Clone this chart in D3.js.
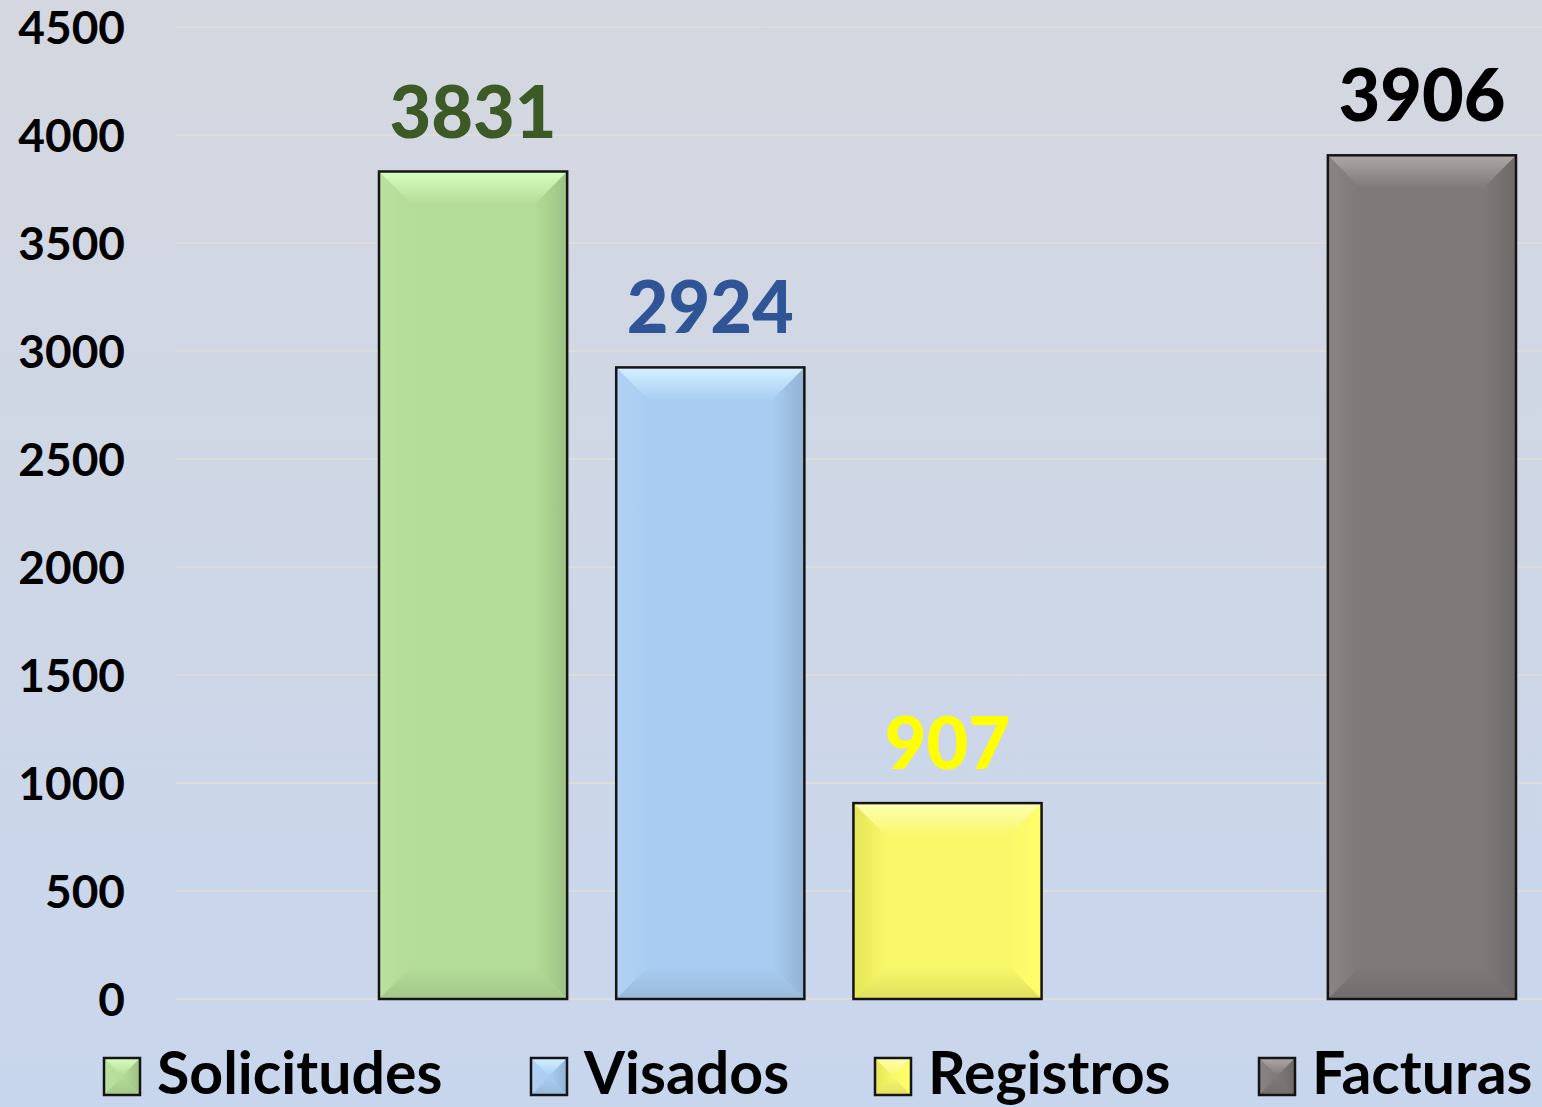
<!DOCTYPE html>
<html>
<head>
<meta charset="utf-8">
<script src="https://cdn.jsdelivr.net/npm/d3@7"></script>
<style>
html,body{margin:0;padding:0;}
body{width:1542px;height:1107px;overflow:hidden;}
svg{display:block;}
</style>
</head>
<body>
<svg id="chart" width="1542" height="1107"></svg>
<script>
// ---- data ----
const seriesNames = ["Solicitudes", "Visados", "Registros", "Facturas"];
const seriesValues = [3831, 2924, 907, 3906];
const slotOrder = ["Solicitudes", "Visados", "Registros", "", "Facturas"];
const yTicks = [0, 500, 1000, 1500, 2000, 2500, 3000, 3500, 4000, 4500];
const baseColors = ["#b4dd97", "#a9cdf2", "#f8f86a", "#7f7a7a"];
const topColors = ["#d8fdbf", "#d2f1ff", "#fefeb4", "#ada8a6"];
const labelColors = ["#3b5a25", "#2f5597", "#ffff00", "#000000"];

const W = 1542, H = 1107;
const svg = d3.select("#chart");
const defs = svg.append("defs");

// background
const bg = defs.append("linearGradient").attr("id", "bg").attr("x1", 0).attr("y1", 0).attr("x2", 0).attr("y2", 1);
bg.append("stop").attr("offset", "0%").attr("stop-color", "#d4d7df");
bg.append("stop").attr("offset", "100%").attr("stop-color", "#c8d6ed");
svg.append("rect").attr("width", W).attr("height", H).attr("fill", "url(#bg)");

const y = d3.scaleLinear().domain([0, 4500]).range([999, 27]);
const x = d3.scaleBand().domain(slotOrder).range([379, 1516]).paddingInner(0.2068).paddingOuter(0);

// gridlines
svg.append("g").selectAll("line").data(yTicks).join("line")
  .attr("x1", 176).attr("x2", W)
  .attr("y1", d => y(d)).attr("y2", d => y(d))
  .attr("stroke", "#dcdcdc").attr("stroke-width", 2);

// y axis labels via d3.axisLeft
const yAxis = d3.axisLeft(y).tickValues(yTicks).tickSize(0).tickPadding(0).tickFormat(d3.format("d"));
const ag = svg.append("g").attr("transform", "translate(125,0)").call(yAxis);
ag.select(".domain").remove();
ag.selectAll("text")
  .attr("font-family", "Lato, 'Open Sans', sans-serif")
  .attr("font-weight", "bold")
  .attr("font-size", 46)
  .attr("fill", "#000")
  .attr("dy", "0.36em");

// gradients per series
function mix(a, b, t) { return d3.interpolateRgb(a, b)(t); }
seriesNames.forEach((s, i) => {
  const base = baseColors[i];
  const g1 = defs.append("linearGradient").attr("id", "top" + i).attr("x1", 0).attr("y1", 0).attr("x2", 0).attr("y2", 1);
  g1.append("stop").attr("offset", "0%").attr("stop-color", topColors[i]);
  g1.append("stop").attr("offset", "100%").attr("stop-color", base);
  const g2 = defs.append("linearGradient").attr("id", "left" + i).attr("x1", 0).attr("y1", 0).attr("x2", 1).attr("y2", 0);
  g2.append("stop").attr("offset", "0%").attr("stop-color", i === 2 ? mix(base, "#8a8a00", 0.18) : mix(base, "#ffffff", 0.08));
  g2.append("stop").attr("offset", "100%").attr("stop-color", base);
  const g3 = defs.append("linearGradient").attr("id", "right" + i).attr("x1", 1).attr("y1", 0).attr("x2", 0).attr("y2", 0);
  g3.append("stop").attr("offset", "0%").attr("stop-color", i === 2 ? "#ffff6a" : mix(base, "#000000", 0.13));
  g3.append("stop").attr("offset", "100%").attr("stop-color", base);
  const g4 = defs.append("linearGradient").attr("id", "bot" + i).attr("x1", 0).attr("y1", 1).attr("x2", 0).attr("y2", 0);
  g4.append("stop").attr("offset", "0%").attr("stop-color", mix(base, "#000000", 0.1));
  g4.append("stop").attr("offset", "100%").attr("stop-color", base);
});

function bevel(g, x0, y0, w, h, i, b) {
  b = Math.min(b, w / 2, h / 2);
  const x1 = x0 + w, y1 = y0 + h;
  g.append("rect").attr("x", x0).attr("y", y0).attr("width", w).attr("height", h).attr("fill", baseColors[i]);
  const poly = (pts, fill) => g.append("polygon").attr("points", pts.map(p => p.join(",")).join(" ")).attr("fill", fill);
  poly([[x0, y0], [x0 + b, y0 + b], [x0 + b, y1 - b], [x0, y1]], `url(#left${i})`);
  poly([[x1, y0], [x1 - b, y0 + b], [x1 - b, y1 - b], [x1, y1]], `url(#right${i})`);
  poly([[x0, y1], [x0 + b, y1 - b], [x1 - b, y1 - b], [x1, y1]], `url(#bot${i})`);
  poly([[x0, y0], [x1, y0], [x1 - b, y0 + b], [x0 + b, y0 + b]], `url(#top${i})`);
  g.append("rect").attr("x", x0).attr("y", y0).attr("width", w).attr("height", h)
    .attr("fill", "none").attr("stroke", "#141414").attr("stroke-width", 2.5);
}

// bars
const barsG = svg.append("g");
seriesNames.forEach((s, i) => {
  const v = seriesValues[i];
  const g = barsG.append("g");
  bevel(g, x(s), y(v), x.bandwidth(), y(0) - y(v), i, 33);
});

// value labels
svg.append("g").selectAll("text").data(seriesNames).join("text")
  .attr("x", d => x(d) + x.bandwidth() / 2)
  .attr("y", (d, i) => y(seriesValues[i]) - 34)
  .attr("text-anchor", "middle")
  .attr("font-family", "Lato, 'Open Sans', sans-serif")
  .attr("font-weight", 900)
  .attr("font-size", 72)
  .attr("fill", (d, i) => labelColors[i])
  .text((d, i) => seriesValues[i]);

// legend
const legendX = [104, 531, 875, 1259];
const lg = svg.append("g");
seriesNames.forEach((s, i) => {
  const g = lg.append("g");
  bevel(g, legendX[i], 1058, 36, 37, i, 18);
  g.append("text").attr("x", legendX[i] + 53).attr("y", 1094)
    .attr("font-family", "Lato, 'Open Sans', sans-serif")
    .attr("font-weight", "bold")
    .attr("font-size", 59)
    .attr("fill", "#000")
    .text(s);
});
</script>
</body>
</html>
